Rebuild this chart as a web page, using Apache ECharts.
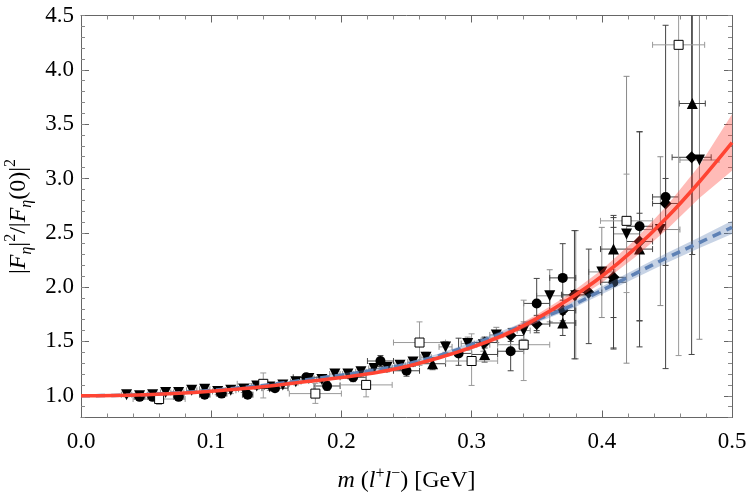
<!DOCTYPE html>
<html><head><meta charset="utf-8">
<script src="https://cdn.jsdelivr.net/npm/echarts@6/dist/echarts.min.js"></script>
<style>html,body{margin:0;padding:0;background:#fff}#c{width:747px;height:500px}</style>
</head><body><div id="c"></div>
<script>
// ---------- data ----------
const xTicks = [0.0, 0.1, 0.2, 0.3, 0.4, 0.5];
const yTicks = [1.0, 1.5, 2.0, 2.5, 3.0, 3.5, 4.0, 4.5];
const X_MIN = 0, X_MAX = 0.5, Y_MIN = 0.8, Y_MAX = 4.5;

const curveM    = [0, 0.025, 0.05, 0.075, 0.1, 0.125, 0.15, 0.175, 0.2, 0.225, 0.25, 0.275, 0.3, 0.325, 0.35, 0.375, 0.4, 0.425, 0.45, 0.475, 0.5];
const redCurve  = [1.000, 1.002, 1.010, 1.023, 1.042, 1.066, 1.097, 1.133, 1.168, 1.21, 1.27, 1.35, 1.445, 1.56, 1.71, 1.89, 2.10, 2.35, 2.64, 2.97, 3.33];
const redLo     = [1.000, 1.002, 1.009, 1.021, 1.039, 1.062, 1.092, 1.127, 1.160, 1.20, 1.257, 1.335, 1.425, 1.535, 1.675, 1.845, 2.04, 2.27, 2.53, 2.82, 3.07];
const redHi     = [1.000, 1.003, 1.011, 1.025, 1.045, 1.070, 1.102, 1.139, 1.176, 1.22, 1.283, 1.365, 1.465, 1.585, 1.745, 1.935, 2.16, 2.43, 2.75, 3.12, 3.59];
const blueCurve = [1.000, 1.003, 1.012, 1.027, 1.050, 1.077, 1.110, 1.150, 1.190, 1.235, 1.29, 1.37, 1.47, 1.58, 1.70, 1.82, 1.97, 2.12, 2.27, 2.41, 2.55];
const blueLo    = [1.000, 1.002, 1.009, 1.022, 1.043, 1.068, 1.100, 1.138, 1.176, 1.220, 1.273, 1.35, 1.448, 1.555, 1.672, 1.79, 1.935, 2.08, 2.225, 2.36, 2.49];
const blueHi    = [1.000, 1.004, 1.015, 1.032, 1.057, 1.086, 1.120, 1.162, 1.204, 1.250, 1.307, 1.39, 1.492, 1.605, 1.728, 1.85, 2.005, 2.16, 2.315, 2.46, 2.61];

// [m, value, lower, upper, xHalfWidth]
const triDown = [
  [0.035,1.01,0.99,1.03,0.004],[0.045,1.00,0.98,1.02,0.004],[0.055,1.01,0.99,1.03,0.004],[0.065,1.03,1.01,1.05,0.004],
  [0.075,1.03,1.01,1.05,0.004],[0.085,1.05,1.03,1.07,0.004],[0.095,1.06,1.04,1.08,0.004],[0.105,1.04,1.01,1.07,0.004],
  [0.115,1.05,1.02,1.08,0.004],[0.125,1.06,1.03,1.09,0.004],[0.135,1.09,1.06,1.12,0.004],[0.145,1.08,1.05,1.11,0.004],
  [0.155,1.10,1.07,1.13,0.004],[0.165,1.13,1.10,1.16,0.004],[0.175,1.16,1.13,1.19,0.004],[0.185,1.15,1.12,1.18,0.004],
  [0.195,1.20,1.16,1.24,0.004],[0.205,1.20,1.16,1.24,0.004],[0.215,1.22,1.18,1.26,0.004],[0.225,1.25,1.21,1.29,0.004],
  [0.235,1.26,1.22,1.30,0.004],[0.245,1.28,1.24,1.32,0.004],[0.255,1.31,1.27,1.35,0.004],[0.265,1.355,1.31,1.40,0.004],
  [0.28,1.45,1.40,1.50,0.005],[0.297,1.48,1.42,1.54,0.005],[0.309,1.47,1.41,1.53,0.005],[0.319,1.56,1.49,1.63,0.005],
  [0.34,1.60,1.52,1.68,0.005],[0.36,1.92,1.68,2.16,0.01],[0.38,1.92,1.34,2.52,0.01],[0.40,2.14,1.72,2.55,0.01],
  [0.419,2.49,1.30,3.94,0.01],[0.445,2.53,1.83,3.20,0.015],[0.475,3.17,1.52,4.8,0.015]
];
const circles = [
  [0.045,0.99,0.975,1.005,0.004],[0.055,0.99,0.975,1.005,0.004],[0.075,0.99,0.975,1.005,0.004],[0.095,1.01,0.99,1.03,0.004],
  [0.108,1.02,1.00,1.04,0.004],[0.128,1.01,0.99,1.03,0.004],[0.149,1.07,1.04,1.10,0.01],[0.173,1.17,1.14,1.20,0.01],
  [0.189,1.09,1.05,1.13,0.01],[0.209,1.17,1.13,1.21,0.01],[0.23,1.32,1.27,1.37,0.01],[0.25,1.23,1.18,1.28,0.01],
  [0.29,1.39,1.28,1.53,0.01],[0.33,1.41,1.23,1.58,0.01],[0.35,1.85,1.60,2.08,0.01],[0.37,2.085,1.665,2.40,0.01],
  [0.409,2.045,1.43,2.64,0.01],[0.429,2.56,1.69,3.43,0.01],[0.449,2.83,1.25,4.41,0.01]
];
const triUp = [
  [0.27,1.295,1.24,1.35,0.01],[0.31,1.38,1.31,1.46,0.01],[0.37,1.67,1.555,1.75,0.01],
  [0.409,2.35,1.44,2.66,0.01],[0.429,2.35,1.69,2.68,0.01],[0.4695,3.69,2.3,4.8,0.01]
];
const diamonds = [
  [0.31,1.49,1.44,1.54,0.01],[0.33,1.555,1.50,1.62,0.01],[0.35,1.66,1.58,1.74,0.01],[0.37,1.785,1.69,1.88,0.01],
  [0.379,1.93,1.34,2.52,0.01],[0.39,1.95,1.48,2.35,0.01],[0.409,2.09,1.72,2.55,0.01],[0.429,2.42,1.45,3.43,0.01],
  [0.449,2.77,2.2,3.0,0.01],[0.469,3.195,1.38,4.8,0.015]
];
const squares = [
  [0.06,0.97,0.92,1.02,0.02],[0.14,1.11,0.98,1.21,0.02],[0.18,1.02,0.93,1.115,0.02],[0.219,1.10,0.99,1.217,0.02],
  [0.26,1.49,1.28,1.68,0.02],[0.30,1.32,1.095,1.57,0.02],[0.34,1.47,1.14,1.88,0.02],[0.419,2.61,1.95,3.04,0.02],
  [0.459,4.23,1.37,4.8,0.02]
];

// ---------- helpers ----------
const FONT = 'Liberation Serif';
function errSeries(data, color) {
  return {
    type: 'custom', data: data, z: 2, silent: true, clip: true,
    encode: { x: 0, y: 1 },
    renderItem: function (params, api) {
      const m = api.value(0), v = api.value(1), lo = api.value(2), hi = api.value(3), dx = api.value(4);
      const top = Math.min(hi, Y_MAX), bot = Math.max(lo, Y_MIN);
      const p1 = api.coord([m, bot]), p2 = api.coord([m, top]);
      const st = { stroke: color, lineWidth: 1 };
      const cap = 3;
      const ch = [{ type: 'line', shape: { x1: p1[0], y1: p1[1], x2: p2[0], y2: p2[1] }, style: st }];
      if (hi <= Y_MAX) ch.push({ type: 'line', shape: { x1: p2[0] - cap, y1: p2[1], x2: p2[0] + cap, y2: p2[1] }, style: st });
      if (lo >= Y_MIN) ch.push({ type: 'line', shape: { x1: p1[0] - cap, y1: p1[1], x2: p1[0] + cap, y2: p1[1] }, style: st });
      if (dx > 0) {
        const a = api.coord([m - dx, v]), b = api.coord([m + dx, v]);
        ch.push({ type: 'line', shape: { x1: a[0], y1: a[1], x2: b[0], y2: b[1] }, style: st });
        if (b[0] - a[0] > 8) {
          ch.push({ type: 'line', shape: { x1: a[0], y1: a[1] - cap, x2: a[0], y2: a[1] + cap }, style: st });
          ch.push({ type: 'line', shape: { x1: b[0], y1: b[1] - cap, x2: b[0], y2: b[1] + cap }, style: st });
        }
      }
      return { type: 'group', children: ch };
    }
  };
}
function scatterSeries(data, symbol, size, rotate, fill, border) {
  return {
    type: 'scatter', data: data.map(d => [d[0], d[1]]), symbol: symbol, symbolSize: size, symbolRotate: rotate || 0,
    z: 3, silent: true,
    itemStyle: { color: fill, borderColor: border || fill, borderWidth: border ? 1 : 0, opacity: 1 }
  };
}
function bandSeries(lo, hi, color, z) {
  return {
    type: 'custom', data: [[curveM[0], lo[0]]], z: z, silent: true, clip: true,
    renderItem: function (params, api) {
      const pts = [];
      for (let i = 0; i < curveM.length; i++) pts.push(api.coord([curveM[i], hi[i]]));
      for (let i = curveM.length - 1; i >= 0; i--) pts.push(api.coord([curveM[i], lo[i]]));
      return { type: 'polygon', shape: { points: pts }, style: { fill: color } };
    }
  };
}
function lineSeries(vals, color, dashed, z) {
  return {
    type: 'line', data: curveM.map((m, i) => [m, vals[i]]), showSymbol: false, smooth: 0.35, z: z, silent: true,
    lineStyle: { color: color, width: 3.5, type: dashed ? [9, 6] : 'solid', cap: 'butt' }
  };
}
const axisColor = '#666';
function xAx(pos, labels) {
  return {
    type: 'value', min: X_MIN, max: X_MAX, interval: 0.1, position: pos,
    axisLine: { show: true, onZero: false, lineStyle: { color: axisColor, width: 1 } },
    axisTick: { show: true, inside: true, length: 7, lineStyle: { color: axisColor } },
    minorTick: { show: true, splitNumber: 5, length: 4, lineStyle: { color: '#888' } },
    splitLine: { show: false }, minorSplitLine: { show: false },
    axisLabel: labels ? {
      show: true, fontFamily: FONT, fontSize: 23, color: '#000', margin: 13,
      formatter: v => { const t = xTicks.find(k => Math.abs(k - v) < 1e-9); return t === undefined ? '' : t.toFixed(1); }
    } : { show: false },
    name: labels ? '{i|m} ({i|l}{sup|+}{i|l}{sup|\u2212}) [GeV]' : '',
    nameLocation: 'middle', nameGap: 48,
    nameTextStyle: {
      fontFamily: FONT, fontSize: 24, color: '#000', lineHeight: 30,
      rich: {
        i: { fontFamily: FONT, fontStyle: 'italic', fontSize: 24, color: '#000', lineHeight: 30 },
        sup: { fontFamily: FONT, fontSize: 16, color: '#000', lineHeight: 16, verticalAlign: 'top' }
      }
    }
  };
}
function yAxMajor(pos, labels) {
  return {
    type: 'value', min: Y_MIN, max: Y_MAX, splitNumber: 7, position: pos,
    axisLine: { show: true, onZero: false, lineStyle: { color: axisColor, width: 1 } },
    axisTick: { show: true, inside: true, length: 8, lineStyle: { color: axisColor } },
    minorTick: { show: false }, splitLine: { show: false },
    axisLabel: labels ? {
      show: true, fontFamily: FONT, fontSize: 23, color: '#000', margin: 7, showMinLabel: false,
      formatter: v => { const t = yTicks.find(k => Math.abs(k - v) < 1e-9); return t === undefined ? '' : t.toFixed(1); }
    } : { show: false },
    name: labels ? '|{i|F}{sub|\u03b7}|{sup|2}/|{i|F}{sub|\u03b7}(0)|{sup|2}' : '',
    nameLocation: 'middle', nameGap: 45, nameRotate: 90,
    nameTextStyle: {
      fontFamily: FONT, fontSize: 24, color: '#000', lineHeight: 32,
      rich: {
        i: { fontFamily: FONT, fontStyle: 'italic', fontSize: 24, color: '#000', lineHeight: 32 },
        sub: { fontFamily: FONT, fontStyle: 'italic', fontSize: 16, color: '#000', lineHeight: 16, verticalAlign: 'bottom' },
        sup: { fontFamily: FONT, fontSize: 16, color: '#000', lineHeight: 16, verticalAlign: 'top' }
      }
    }
  };
}
function yAxMinor(pos) {
  return {
    type: 'value', min: Y_MIN, max: Y_MAX, interval: 0.1, position: pos,
    axisLine: { show: false, onZero: false },
    axisTick: { show: true, inside: true, length: 4, lineStyle: { color: '#888' } },
    minorTick: { show: false }, splitLine: { show: false }, axisLabel: { show: false }
  };
}

const chart = echarts.init(document.getElementById('c'), null, { renderer: 'canvas' });
chart.setOption({
  animation: false,
  backgroundColor: '#fff',
  grid: { left: 81, right: 15, top: 15.5, bottom: 82.5, containLabel: false, outerBoundsMode: 'none' },
  xAxis: [xAx('bottom', true), xAx('top', false)],
  yAxis: [yAxMajor('left', true), yAxMajor('right', false), yAxMinor('left'), yAxMinor('right')],
  series: [
    errSeries(triDown, '#8a8a8a'),
    errSeries(circles, '#444'),
    errSeries(triUp, '#444'),
    errSeries(diamonds, '#444'),
    errSeries(squares, '#9a9a9a'),
    scatterSeries(triDown, 'triangle', 11, 180, '#000'),
    scatterSeries(circles, 'circle', 10, 0, '#000'),
    scatterSeries(triUp, 'triangle', 11, 0, '#000'),
    scatterSeries(diamonds, 'diamond', 12, 0, '#000'),
    scatterSeries(squares, 'rect', 9, 0, '#fff', '#000'),
    bandSeries(blueLo, blueHi, 'rgba(94,129,181,0.35)', 4),
    bandSeries(redLo, redHi, 'rgba(255,60,50,0.35)', 4),
    lineSeries(blueCurve, '#5e81b5', true, 5),
    lineSeries(redCurve, '#ff4433', false, 6)
  ]
});
</script></body></html>
